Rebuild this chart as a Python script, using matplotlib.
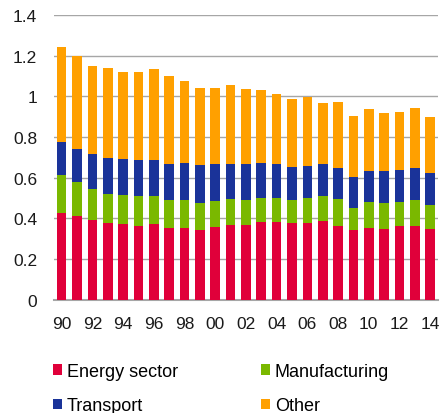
import matplotlib
matplotlib.use("Agg")
import matplotlib.pyplot as plt
import numpy as np

years = ["90", "91", "92", "93", "94", "95", "96", "97", "98", "99", "00", "01", "02",
         "03", "04", "05", "06", "07", "08", "09", "10", "11", "12", "13", "14"]
tick_labels = ["90", "92", "94", "96", "98", "00", "02", "04", "06", "08", "10", "12", "14"]

energy = [0.425, 0.411, 0.390, 0.379, 0.374, 0.364, 0.372, 0.351, 0.354, 0.343, 0.356, 0.369, 0.369,
          0.384, 0.380, 0.375, 0.379, 0.385, 0.364, 0.341, 0.354, 0.349, 0.362, 0.364, 0.346]
manuf_top = [0.613, 0.579, 0.544, 0.521, 0.516, 0.510, 0.510, 0.492, 0.490, 0.477, 0.485, 0.493, 0.491,
             0.502, 0.498, 0.490, 0.498, 0.511, 0.493, 0.449, 0.480, 0.477, 0.482, 0.489, 0.464]
transport_top = [0.775, 0.743, 0.716, 0.698, 0.690, 0.687, 0.685, 0.667, 0.670, 0.662, 0.667, 0.667, 0.667,
                 0.672, 0.667, 0.654, 0.656, 0.667, 0.646, 0.602, 0.633, 0.633, 0.638, 0.646, 0.625]
total = [1.244, 1.198, 1.149, 1.139, 1.121, 1.118, 1.136, 1.100, 1.075, 1.043, 1.041, 1.056, 1.035,
         1.031, 1.013, 0.989, 0.997, 0.969, 0.970, 0.903, 0.938, 0.920, 0.923, 0.943, 0.898]

energy = np.array(energy)
manufacturing = np.array(manuf_top) - energy
transport = np.array(transport_top) - np.array(manuf_top)
other = np.array(total) - np.array(transport_top)

series = [("Energy sector", energy, "#E0003A"),
          ("Manufacturing", manufacturing, "#7AB800"),
          ("Transport", transport, "#1A3399"),
          ("Other", other, "#FFA000")]

plt.rcParams['font.family'] = ['Liberation Sans', 'DejaVu Sans']

fig = plt.figure(figsize=(4.41, 4.14), dpi=100)
ax = fig.add_axes([0.1224, 0.2737, 0.8706, 0.6877])

x = np.arange(len(years))
bottom = np.zeros(len(years))
handles = {}
for name, vals, col in series:
    b = ax.bar(x, vals, bottom=bottom, width=0.63, color=col, label=name, zorder=3)
    handles[name] = b
    bottom = bottom + vals

ax.set_xlim(-0.5, len(years) - 0.5)
ax.set_ylim(0, 1.4)
ax.set_yticks(np.arange(0, 1.41, 0.2))
ax.set_yticklabels(["0", "0.2", "0.4", "0.6", "0.8", "1", "1.2", "1.4"])
ax.set_xticks(x[::2])
ax.set_xticklabels(tick_labels)
ax.tick_params(axis='both', length=0, labelsize=12.5, colors='#1a1a1a')
ax.tick_params(axis='x', pad=11.5)
ax.tick_params(axis='y', pad=12)
ax.grid(axis='y', color='#a6a6a6', linewidth=1.0, zorder=0)
for s in ['top', 'right', 'left']:
    ax.spines[s].set_visible(False)
ax.spines['bottom'].set_color('#a6a6a6')
ax.spines['bottom'].set_linewidth(1.5)

order = ["Energy sector", "Transport", "Manufacturing", "Other"]
fig.legend([handles[n] for n in order], order, ncol=2, loc='upper left',
           bbox_to_anchor=(0.121, 0.121), frameon=False, fontsize=13,
           handlelength=0.5, handleheight=0.5, handletextpad=0.26,
           labelspacing=0.95, columnspacing=4.6, borderaxespad=0, borderpad=0)

fig.savefig("out.png", dpi=100)
